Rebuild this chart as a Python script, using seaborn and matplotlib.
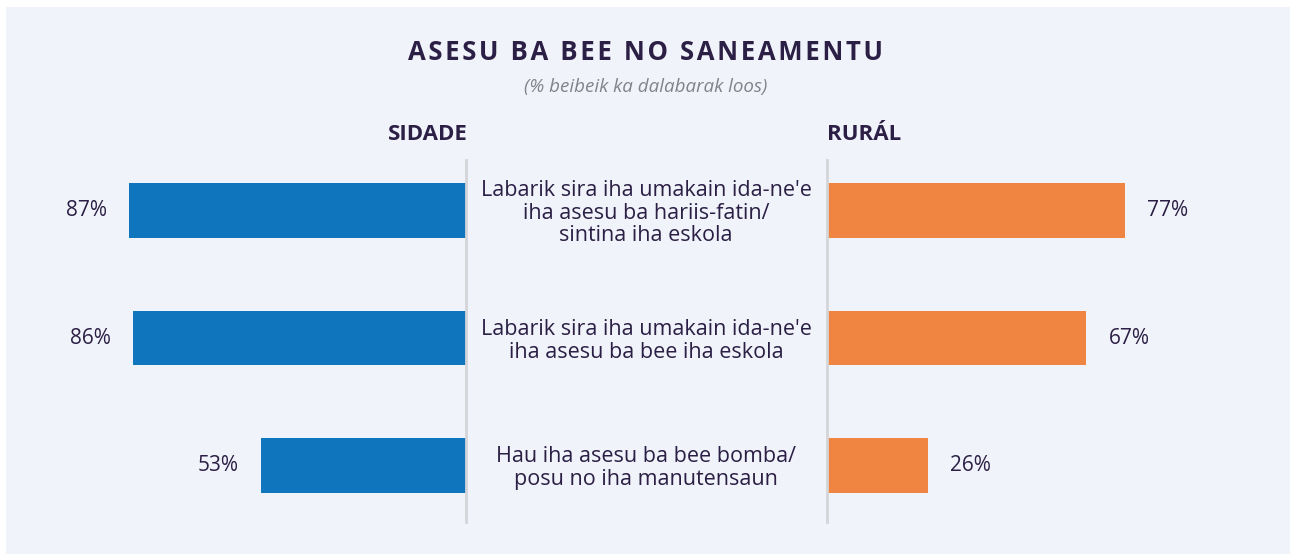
import matplotlib
matplotlib.use("Agg")
import matplotlib.pyplot as plt
import matplotlib.transforms as mtransforms
import seaborn as sns
import pandas as pd

categories = [
    "Labarik sira iha umakain ida-ne'e\niha asesu ba hariis-fatin/\nsintina iha eskola",
    "Labarik sira iha umakain ida-ne'e\niha asesu ba bee iha eskola",
    "Hau iha asesu ba bee bomba/\nposu no iha manutensaun",
]
sidade = [87, 86, 53]
rural = [77, 67, 26]
value_labels_sidade = ["87%", "86%", "53%"]
value_labels_rural = ["77%", "67%", "26%"]

sns.set_theme(style="white")
plt.rcParams["font.family"] = ["Open Sans", "DejaVu Sans"]

BG = "#f0f3f9"
TXT = "#2b1f45"
BLUE = "#0f75bc"
ORANGE = "#f08441"
W, H = 1290, 554

fig = plt.figure(figsize=(12.9, 5.54), dpi=100)
fig.patch.set_facecolor("white")
fig.patches.append(matplotlib.patches.Rectangle((6 / W, 0), 1 - 6 / W, 1 - 7 / H,
                                                transform=fig.transFigure,
                                                facecolor=BG, edgecolor="none", zorder=-10))

bottom = 1 - 522 / H
height = (522 - 160) / H
axL = fig.add_axes([40 / W, bottom, (466 - 40) / W, height])
axR = fig.add_axes([827 / W, bottom, (1250 - 827) / W, height])

df = pd.DataFrame({"cat": categories, "sidade": sidade, "rural": rural})
sns.barplot(data=df, y="cat", x="sidade", orient="h", color=BLUE, saturation=1,
            width=0.431, linewidth=0, ax=axL)
sns.barplot(data=df, y="cat", x="rural", orient="h", color=ORANGE, saturation=1,
            width=0.431, linewidth=0, ax=axR)

scale = 3.87
ylim = (2.443, -0.396)
axL.set_xlim((466 - 40) / scale, 0)
axR.set_xlim(0, (1250 - 827) / scale)
for ax in (axL, axR):
    ax.set_ylim(*ylim)
    ax.set_facecolor("none")
    ax.set_xticks([])
    ax.set_yticks([])
    ax.set_xlabel("")
    ax.set_ylabel("")
    for s in ax.spines.values():
        s.set_visible(False)
axL.spines["right"].set_visible(True)
axL.spines["right"].set_color("#d3d5d9")
axL.spines["right"].set_linewidth(2)
axR.spines["left"].set_visible(True)
axR.spines["left"].set_color("#d3d5d9")
axR.spines["left"].set_linewidth(2)

axL.bar_label(axL.containers[0], labels=value_labels_sidade, padding=16,
              fontsize=15, color=TXT)
axR.bar_label(axR.containers[0], labels=value_labels_rural, padding=16,
              fontsize=15, color=TXT)

trans = mtransforms.blended_transform_factory(fig.transFigure, axL.transData)
for i, c in enumerate(categories):
    fig.text(646 / W, i + 0.02, c, transform=trans, ha="center", va="center",
             fontsize=15.5, color=TXT, linespacing=1.12)

fig.text(468 / W, 1 - 135 / H, "SIDADE", ha="right", va="center",
         fontsize=16, fontweight="bold", color=TXT)
fig.text(827 / W, 1 - 135 / H, "RURÁL", ha="left", va="center",
         fontsize=16, fontweight="bold", color=TXT)

title = "ASESU BA BEE NO SANEAMENTU"
fig.text(646 / W, 1 - 53 / H, "\u200a".join(title),
         ha="center", va="center", fontsize=18.5, fontweight="bold", color=TXT)
fig.text(646 / W, 1 - 87 / H, "(% beibeik ka dalabarak loos)", ha="center", va="center",
         fontsize=13.5, style="italic", color="#808488")

fig.savefig("out.png", dpi=100, facecolor=fig.get_facecolor())
